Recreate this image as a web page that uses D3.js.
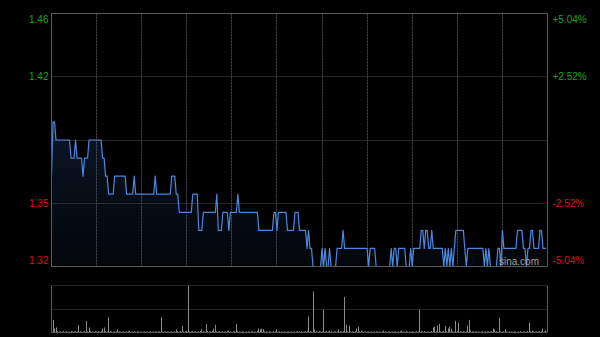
<!DOCTYPE html>
<html>
<head>
<meta charset="utf-8">
<script src="https://cdn.jsdelivr.net/npm/d3@7/dist/d3.min.js"></script>
<style>
  html, body { margin: 0; padding: 0; background: #000; }
  svg { display: block; }
  text { font-family: Arial, "Liberation Sans", sans-serif; }
</style>
</head>
<body>
<div id="chart"></div>
<script>
// previous close and price axis labels
const prevClose = 1.39;
const priceTicks = [1.46, 1.425, 1.355, 1.32];
const priceLabels = ["1.46", "1.42", "1.35", "1.32"];
const pctLabels = ["+5.04%", "+2.52%", "-2.52%", "-5.04%"];
// half-hour grid (minutes from open), 330 trading minutes
const gridMinutes = [30, 60, 90, 120, 150, 180, 210, 240, 270, 300];

// one price per minute
const prices = [
  1.37,1.40,1.40,1.39,1.39,1.39,1.39,1.39,1.39,1.39,
  1.39,1.39,1.39,1.38,1.38,1.38,1.39,1.38,1.38,1.38,
  1.38,1.37,1.38,1.38,1.38,1.39,1.39,1.39,1.39,1.39,
  1.39,1.39,1.39,1.39,1.38,1.38,1.37,1.37,1.36,1.36,
  1.36,1.36,1.37,1.37,1.37,1.37,1.37,1.37,1.37,1.37,
  1.36,1.36,1.36,1.36,1.36,1.37,1.36,1.36,1.36,1.36,
  1.36,1.36,1.36,1.36,1.36,1.36,1.36,1.36,1.36,1.37,
  1.36,1.36,1.36,1.36,1.36,1.36,1.36,1.36,1.36,1.36,
  1.37,1.37,1.37,1.36,1.36,1.35,1.35,1.35,1.35,1.35,
  1.35,1.35,1.35,1.35,1.36,1.36,1.36,1.36,1.34,1.34,
  1.34,1.35,1.35,1.35,1.35,1.35,1.35,1.35,1.35,1.35,
  1.36,1.34,1.34,1.34,1.35,1.35,1.35,1.35,1.34,1.35,
  1.35,1.35,1.35,1.35,1.36,1.35,1.35,1.35,1.35,1.35,
  1.35,1.35,1.35,1.35,1.35,1.35,1.35,1.35,1.34,1.34,
  1.34,1.34,1.34,1.34,1.34,1.34,1.34,1.34,1.35,1.35,
  1.34,1.35,1.35,1.35,1.35,1.35,1.35,1.34,1.34,1.34,
  1.34,1.34,1.35,1.35,1.35,1.34,1.34,1.34,1.34,1.34,
  1.33,1.34,1.33,1.33,1.32,1.32,1.32,1.32,1.32,1.32,
  1.33,1.32,1.33,1.32,1.32,1.33,1.32,1.32,1.32,1.32,
  1.33,1.33,1.33,1.33,1.34,1.33,1.33,1.33,1.33,1.33,
  1.33,1.33,1.33,1.33,1.33,1.33,1.33,1.33,1.33,1.33,
  1.33,1.32,1.33,1.33,1.33,1.33,1.32,1.32,1.32,1.32,
  1.32,1.32,1.32,1.32,1.32,1.32,1.33,1.32,1.33,1.33,
  1.32,1.33,1.33,1.33,1.33,1.33,1.32,1.32,1.32,1.33,
  1.32,1.33,1.33,1.33,1.33,1.33,1.34,1.34,1.33,1.34,
  1.34,1.33,1.33,1.34,1.33,1.33,1.33,1.33,1.33,1.33,
  1.33,1.32,1.33,1.32,1.33,1.32,1.33,1.32,1.33,1.34,
  1.34,1.34,1.34,1.34,1.34,1.33,1.32,1.33,1.33,1.33,
  1.33,1.33,1.33,1.33,1.33,1.33,1.33,1.33,1.32,1.33,
  1.32,1.33,1.32,1.32,1.32,1.32,1.32,1.33,1.33,1.32,
  1.34,1.33,1.33,1.33,1.33,1.33,1.33,1.33,1.33,1.33,
  1.34,1.34,1.34,1.34,1.33,1.33,1.32,1.33,1.33,1.34,
  1.34,1.33,1.33,1.33,1.33,1.34,1.34,1.33,1.33,1.33
];

// volume per minute (thousand shares)
const volumes = [
  76,126,40,50,15,10,12,8,14,10,
  12,8,10,15,12,10,14,10,76,12,
  10,8,15,116,12,50,14,10,8,12,
  10,12,8,15,40,50,12,10,153,14,
  10,8,12,10,30,12,8,10,12,8,
  10,12,20,8,10,12,8,10,12,8,
  10,8,12,10,8,10,12,8,10,12,
  8,10,12,153,10,8,12,10,8,10,
  12,8,10,30,12,10,14,67,10,12,
  15,470,12,10,14,10,12,8,10,15,
  37,12,10,85,14,10,12,15,40,76,
  12,10,14,10,12,8,10,12,20,10,
  8,10,12,85,14,10,8,12,10,8,
  10,12,8,10,12,10,8,14,40,30,
  40,35,12,10,8,12,10,8,12,10,
  30,10,12,8,10,12,8,10,12,8,
  10,12,8,10,14,10,12,8,10,12,
  15,160,12,10,410,30,12,10,14,10,
  12,230,10,14,10,20,12,8,10,12,
  10,30,12,10,14,356,80,12,70,10,
  12,10,14,40,57,12,20,10,8,12,
  10,12,8,10,12,8,10,12,10,8,
  10,20,12,8,10,12,8,10,12,10,
  8,10,12,20,10,8,12,10,8,10,
  12,10,8,12,10,230,12,10,14,10,
  12,8,10,14,50,60,12,70,87,12,
  10,14,67,12,40,57,40,12,10,117,
  14,100,12,10,14,10,12,70,127,20,
  12,10,8,12,10,8,10,12,8,10,
  12,10,8,14,40,30,12,10,147,12,
  10,12,30,10,8,12,10,8,12,10,
  8,10,12,10,8,12,10,14,100,12,
  20,10,8,12,10,14,12,40,10,20
];

const W = 600, H = 337;
const pLeft = 51.5, pRight = 547.5, pTop = 13.5, pBottom = 266.5;
const vTop = 285.5, vBottom = 332.5;

const upColor = "#1ba51b", downColor = "#d41515";
const frameColor = "#5a5a5a", gridColor = "#4a4a4a";

const svg = d3.select("#chart").append("svg")
  .attr("width", W)
  .attr("height", H);

svg.append("rect").attr("width", W).attr("height", H).attr("fill", "#000");

var x = d3.scaleLinear().domain([0, 330]).range([pLeft, pRight]);
var y = d3.scaleLinear().domain([1.32, 1.46]).range([pBottom, pTop]);
var yv = d3.scaleLinear().domain([0, 470]).range([vBottom, vTop]).clamp(true);

var crisp = function (v) { return Math.floor(v) + 0.5; };

// gradient under the price line
var defs = svg.append("defs");
var grad = defs.append("linearGradient")
  .attr("id", "areaGrad")
  .attr("gradientUnits", "userSpaceOnUse")
  .attr("x1", 0).attr("x2", 0)
  .attr("y1", y(d3.max(prices))).attr("y2", pBottom);
grad.append("stop").attr("offset", "0%").attr("stop-color", "rgb(60,110,190)").attr("stop-opacity", 0.2);
grad.append("stop").attr("offset", "100%").attr("stop-color", "rgb(60,110,190)").attr("stop-opacity", 0.05);

// grid
var grid = svg.append("g").attr("class", "grid");
grid.selectAll("line.h")
  .data([1.425, prevClose, 1.355])
  .enter().append("line")
  .attr("class", "h")
  .attr("x1", pLeft).attr("x2", pRight)
  .attr("y1", function (d) { return crisp(y(d)); })
  .attr("y2", function (d) { return crisp(y(d)); })
  .attr("stroke", gridColor)
  .attr("stroke-dasharray", "1,1");

grid.selectAll("line.v")
  .data(gridMinutes)
  .enter().append("line")
  .attr("class", "v")
  .attr("x1", function (d) { return crisp(x(d)); })
  .attr("x2", function (d) { return crisp(x(d)); })
  .attr("y1", pTop).attr("y2", pBottom)
  .attr("stroke", gridColor)
  .attr("stroke-dasharray", "2,1");

// area + line
var area = d3.area()
  .x(function (d, i) { return x(i); })
  .y0(pBottom)
  .y1(function (d) { return y(d); });

var line = d3.line()
  .x(function (d, i) { return x(i); })
  .y(function (d) { return y(d); });

svg.append("path")
  .datum(prices)
  .attr("d", area)
  .attr("fill", "url(#areaGrad)");

svg.append("path")
  .datum(prices)
  .attr("d", line)
  .attr("fill", "none")
  .attr("stroke", "#4a88e0")
  .attr("stroke-width", 1.2)
  .attr("stroke-linejoin", "round");

// frame of price panel
svg.append("rect")
  .attr("x", pLeft).attr("y", pTop)
  .attr("width", pRight - pLeft).attr("height", pBottom - pTop)
  .attr("fill", "none")
  .attr("stroke", frameColor);

// left price labels
var yAxisL = d3.axisLeft(y)
  .tickValues(priceTicks)
  .tickSize(0)
  .tickPadding(3)
  .tickFormat(function (d, i) { return priceLabels[i]; });

var gL = svg.append("g").attr("transform", "translate(" + pLeft + ",0)").call(yAxisL);
gL.select(".domain").remove();

// right percent labels
var yAxisR = d3.axisRight(y)
  .tickValues(priceTicks)
  .tickSize(0)
  .tickPadding(5)
  .tickFormat(function (d, i) { return pctLabels[i]; });

var gR = svg.append("g").attr("transform", "translate(" + pRight + ",0)").call(yAxisR);
gR.select(".domain").remove();

[gL, gR].forEach(function (g) {
  g.selectAll("text")
    .style("font-size", "10px")
    .style("font-family", "Arial, 'Liberation Sans', sans-serif")
    .attr("fill", function (d) { return d > prevClose ? upColor : downColor; })
    .attr("dy", function (d, i) {
      if (i === 0) return "0.85em";
      if (i === priceTicks.length - 1) return "-0.3em";
      return "0.32em";
    });
});

// watermark
svg.append("text")
  .attr("x", 499)
  .attr("y", 265)
  .attr("fill", "#a0a0a0")
  .style("font-size", "10px")
  .text("sina.com");

// volume panel
svg.selectAll("line.vgrid")
  .data([vTop, (vTop + vBottom) / 2])
  .enter().append("line")
  .attr("class", "vgrid")
  .attr("x1", pLeft).attr("x2", pRight)
  .attr("y1", function (d) { return crisp(d); })
  .attr("y2", function (d) { return crisp(d); })
  .attr("stroke", gridColor)
  .attr("stroke-dasharray", "1,1");

svg.selectAll("line.vol")
  .data(volumes)
  .enter().append("line")
  .attr("class", "vol")
  .attr("x1", function (d, i) { return crisp(x(i)); })
  .attr("x2", function (d, i) { return crisp(x(i)); })
  .attr("y1", vBottom)
  .attr("y2", function (d) { return yv(d); })
  .attr("stroke", "#8a8a8a")
  .attr("stroke-width", 1);

svg.append("line")
  .attr("x1", pLeft).attr("x2", pLeft)
  .attr("y1", vTop).attr("y2", vBottom)
  .attr("stroke", frameColor);
svg.append("line")
  .attr("x1", pRight).attr("x2", pRight)
  .attr("y1", vTop).attr("y2", vBottom)
  .attr("stroke", frameColor);
svg.append("line")
  .attr("x1", pLeft).attr("x2", pRight)
  .attr("y1", vBottom).attr("y2", vBottom)
  .attr("stroke", frameColor);
</script>
</body>
</html>
